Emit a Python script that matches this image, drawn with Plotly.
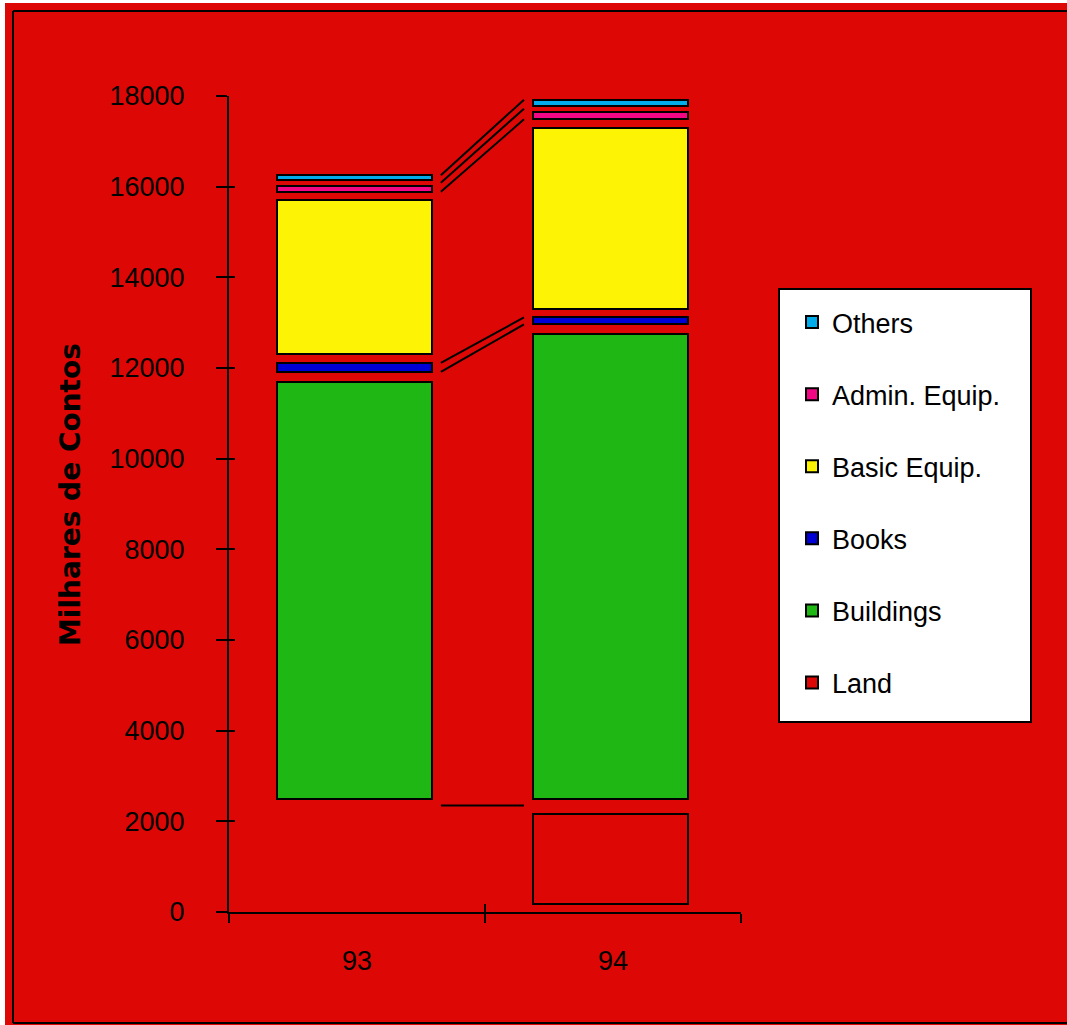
import plotly.graph_objects as go

# ---------------- data ----------------
years = ["93", "94"]
series_names = ["Land", "Buildings", "Books", "Basic Equip.", "Admin. Equip.", "Others"]
land = [2350, 2350]
buildings = [9475, 10535]
books = [375, 310]
basic_equip = [3620, 4215]
admin_equip = [265, 310]
others = [220, 265]
y_ticks = [0, 2000, 4000, 6000, 8000, 10000, 12000, 14000, 16000, 18000]
y_title = "Milhares de Contos"

# ---------------- style ----------------
BG = "#DD0806"
colors = ["#DD0806", "#1FB714", "#0000D4", "#FCF305", "#F20884", "#02ABEA"]
inset_px = [8.5, 6, 4, 5, 4, 4]      # visual separation of stacked pieces
W, H = 1062, 1022
ML, MR, MT, MB = 224, 326, 93, 113
Y_MAX = 18000
UPX = Y_MAX / (H - MT - MB)          # data units per pixel
BAR_W = 0.605
BAR_SHIFT = -0.01
FONT = "Liberation Sans, Arial, sans-serif"

values = [land, buildings, books, basic_equip, admin_equip, others]

fig = go.Figure()
cum = [0.0, 0.0]
rects = []
for i, (name, vals) in enumerate(zip(series_names, values)):
    bases, heights, info = [], [], []
    for j, v in enumerate(vals):
        start = cum[j]
        end = start + v
        ins = min(inset_px[i] * UPX, 0.25 * v)
        bases.append(start + ins)
        heights.append(v - 2 * ins)
        info.append((start, end, start + ins, end - ins))
        cum[j] = end
    rects.append(info)
    xs = list(years)
    line_cols = ["black", "black"]
    hov = [str(v) for v in vals]
    if name == "Land":
        # the 1993 land block has no visible outline; list 1994 first so the
        # legend swatch keeps its black border
        xs, bases, heights, hov = xs[::-1], bases[::-1], heights[::-1], hov[::-1]
        line_cols = ["black", BG]
    fig.add_trace(go.Bar(
        x=xs, y=heights, base=bases, name=name, width=BAR_W,
        offset=-BAR_W / 2 + BAR_SHIFT,
        marker=dict(color=colors[i], line=dict(color=line_cols, width=2)),
        legendgroup=name, legendrank=100 - i,
        hovertext=hov, hoverinfo="text+name",
    ))

fig.add_trace(go.Scatter(x=years, y=[0, 0], xaxis="x2", yaxis="y2", mode="markers",
                         marker=dict(opacity=0), showlegend=False, hoverinfo="skip"))

gap_x = 9 / ((W - ML - MR) / 2.0)
cx0 = 0 + BAR_SHIFT + BAR_W / 2 + gap_x
cx1 = 1 + BAR_SHIFT - BAR_W / 2 - gap_x
idx = {n: k for k, n in enumerate(series_names)}
conn = [
    (rects[idx["Land"]][0][1], rects[idx["Land"]][1][1]),
    (rects[idx["Books"]][0][2], rects[idx["Books"]][1][2]),
    (rects[idx["Books"]][0][3], rects[idx["Books"]][1][3]),
    (rects[idx["Admin. Equip."]][0][2], rects[idx["Admin. Equip."]][1][2]),
    (rects[idx["Others"]][0][0], rects[idx["Others"]][1][0]),
    (rects[idx["Others"]][0][3], rects[idx["Others"]][1][3]),
]
shapes = []
for y0, y1 in conn:
    shapes.append(dict(type="line", xref="x", yref="y", x0=cx0, x1=cx1, y0=y0, y1=y1,
                       line=dict(color="black", width=2)))

pw, ph = W - ML - MR, H - MT - MB
def px2paper_x(px):
    return (px - ML) / pw
def px2paper_y(py):
    return (H - MB - py) / ph

# outer frame
fl, ft, fb, fr = px2paper_x(8), px2paper_y(8), px2paper_y(1020), px2paper_x(W)
for x0, y0, x1, y1 in [(fl, fb, fl, ft), (fl, ft, fr, ft), (fl, fb, fr, fb)]:
    shapes.append(dict(type="line", xref="paper", yref="paper", x0=x0, y0=y0, x1=x1, y1=y1,
                       line=dict(color="black", width=2), layer="below"))
# legend box
shapes.append(dict(type="rect", xref="paper", yref="paper",
                   x0=px2paper_x(774), x1=px2paper_x(1026),
                   y0=px2paper_y(719), y1=px2paper_y(286),
                   line=dict(color="black", width=2), fillcolor="white", layer="below"))

fig.update_layout(
    width=W, height=H,
    margin=dict(l=ML, r=MR, t=MT, b=MB, pad=0),
    paper_bgcolor=BG, plot_bgcolor=BG,
    barmode="overlay", bargap=0,
    font=dict(family=FONT, size=27, color="black"),
    shapes=shapes,
    showlegend=True,
    legend=dict(
        x=px2paper_x(787), y=px2paper_y(295), xanchor="left", yanchor="top",
        bgcolor="rgba(0,0,0,0)", borderwidth=0,
        traceorder="grouped", tracegroupgap=34,
        font=dict(family=FONT, size=27, color="black"),
    ),
    annotations=[dict(
        text=y_title, textangle=-90, xref="paper", yref="paper",
        x=px2paper_x(65), y=px2paper_y(492), xanchor="center", yanchor="middle",
        showarrow=False,
        font=dict(family="DejaVu Sans, sans-serif", size=28, color="black", weight="bold"),
    )],
    xaxis=dict(
        type="category", categoryorder="array", categoryarray=years,
        range=[-0.5, 1.5], tickson="boundaries",
        showline=True, linecolor="black", linewidth=2, mirror=False,
        ticks="outside", ticklen=9, tickwidth=2, tickcolor="black",
        showgrid=False, zeroline=False, ticklabelstandoff=24,
        tickfont=dict(family=FONT, size=27, color="black"), fixedrange=True,
    ),
    yaxis=dict(
        range=[0, Y_MAX], tickvals=y_ticks, ticktext=[str(t) for t in y_ticks],
        showline=True, linecolor="black", linewidth=2,
        ticks="outside", ticklen=11, tickwidth=2, tickcolor="black",
        showgrid=False, zeroline=False, ticklabelstandoff=26,
        tickfont=dict(family=FONT, size=27, color="black"),
        fixedrange=True,
    ),
    xaxis2=dict(overlaying="x", matches="x", anchor="y2", type="category",
                categoryorder="array", categoryarray=years, tickson="boundaries",
                ticks="inside", ticklen=8, tickwidth=2, tickcolor="black",
                showticklabels=False, showline=False, showgrid=False, zeroline=False),
    yaxis2=dict(overlaying="y", matches="y", anchor="x2", side="left", tickvals=y_ticks,
                ticks="inside", ticklen=6, tickwidth=2, tickcolor="black",
                showticklabels=False, showline=False, showgrid=False, zeroline=False),
)

fig.write_html(
    "out.html", default_width=f"{W}px", default_height=f"{H}px",
    post_script="document.body.style.margin='3px 0 0 5px';document.body.style.overflow='hidden';document.documentElement.style.background='white';",
)
